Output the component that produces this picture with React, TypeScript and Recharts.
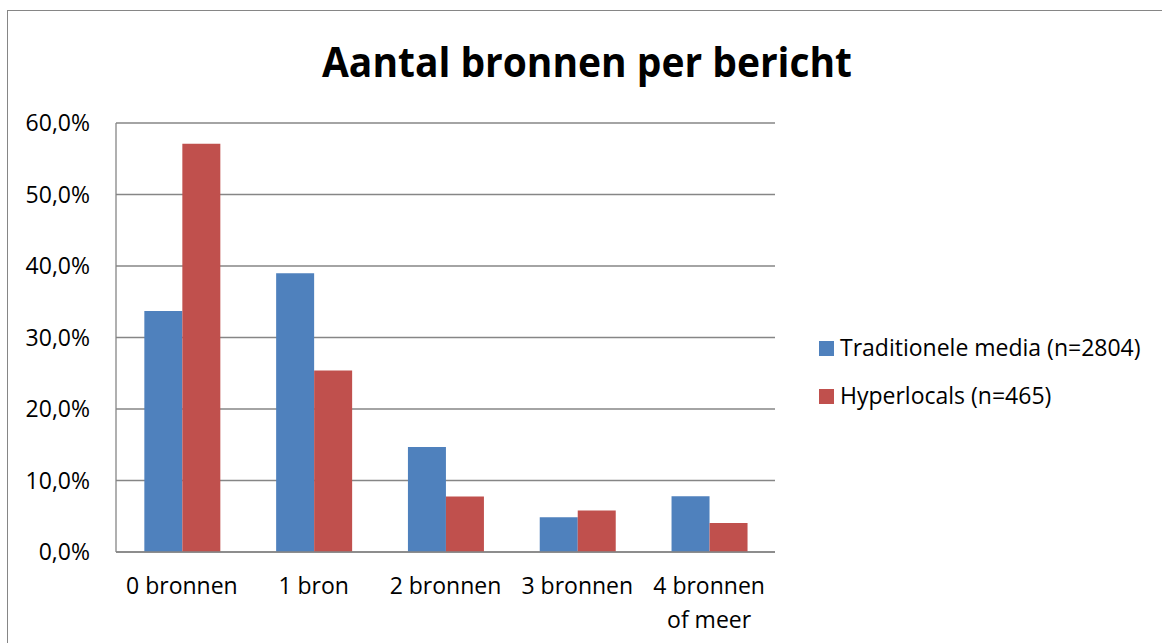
import { BarChart, Bar, XAxis, YAxis, CartesianGrid } from "recharts";

const categories = ["0 bronnen", "1 bron", "2 bronnen", "3 bronnen", "4 bronnen of meer"];
const traditionele = [33.7, 39.0, 14.7, 4.85, 7.8];
const hyperlocals = [57.1, 25.4, 7.75, 5.8, 4.05];
const yTicks = [0, 10, 20, 30, 40, 50, 60];
const seriesNames = ["Traditionele media (n=2804)", "Hyperlocals (n=465)"];
const colors = ["#4F81BD", "#C0504D"];

const FONT = "'Open Sans', 'Liberation Sans', sans-serif";
const GRID = "#868686";

const data = categories.map((c, i) => ({
	name: c,
	trad: traditionele[i],
	hyper: hyperlocals[i],
}));

// split long labels after the second word, like Excel wraps them
function XTick(props: any) {
	const { x, y, payload } = props;
	const words = String(payload.value).split(" ");
	const lines = words.length > 2 ? [words.slice(0, 2).join(" "), words.slice(2).join(" ")] : [payload.value];
	return (
		<text x={x} y={y} textAnchor="middle" fontSize={23} fontFamily={FONT} fill="#000">
			{lines.map((l: string, i: number) => (
				<tspan key={i} x={x} dy={i === 0 ? 42 : 34}>
					{l}
				</tspan>
			))}
		</text>
	);
}

function LegendOverlay() {
	return (
		<svg width={1162} height={643} style={{ position: "absolute", left: 0, top: 0, pointerEvents: "none" }}>
			{seriesNames.map((n, i) => (
				<g key={n}>
					<rect x={819} y={341 + i * 48} width={15} height={15} fill={colors[i]} />
					<text x={840} y={356 + i * 48} fontSize={23} fontFamily={FONT} fill="#000">
						{n}
					</text>
				</g>
			))}
		</svg>
	);
}

export default function App() {
	return (
		<div style={{ position: "absolute", left: 0, top: 0, width: 1162, height: 643, background: "#fff", overflow: "hidden" }}>
			<div
				style={{
					position: "absolute",
					left: 7,
					top: 10,
					width: 1200,
					height: 700,
					border: "1.5px solid #868686",
					boxSizing: "border-box",
				}}
			/>
			<svg width={1162} height={120} style={{ position: "absolute", left: 0, top: 0 }}>
				<text
					x={587}
					y={77}
					textAnchor="middle"
					fontSize={42}
					fontWeight={700}
					fontFamily={FONT}
					textLength={530}
					lengthAdjust="spacingAndGlyphs"
				>
					Aantal bronnen per bericht
				</text>
			</svg>
			<BarChart
				width={1162}
				height={643}
				data={data}
				margin={{ top: 123, right: 387, bottom: 0, left: 0 }}
				barCategoryGap="21.5%"
				barGap={0}
				style={{ position: "absolute", left: 0, top: 0 }}
			>
				<CartesianGrid vertical={false} stroke={GRID} strokeWidth={1.3} />
				<XAxis
					dataKey="name"
					height={91}
					axisLine={{ stroke: GRID, strokeWidth: 1.3 }}
					tickLine={false}
					tickSize={0}
					tickMargin={0}
					tick={<XTick />}
					interval={0}
				/>
				<YAxis
					width={116}
					domain={[0, 60]}
					ticks={yTicks}
					axisLine={{ stroke: GRID, strokeWidth: 1.3 }}
					tickLine={false}
					tickSize={6}
					tickMargin={20}
					tick={{ fontSize: 23, fontFamily: FONT, fill: "#000" }}
					tickFormatter={(v: number) => v.toFixed(1).replace(".", ",") + "%"}
				/>
				<Bar dataKey="trad" name={seriesNames[0]} fill={colors[0]} isAnimationActive={false} />
				<Bar dataKey="hyper" name={seriesNames[1]} fill={colors[1]} isAnimationActive={false} />
			</BarChart>
			<LegendOverlay />
		</div>
	);
}
